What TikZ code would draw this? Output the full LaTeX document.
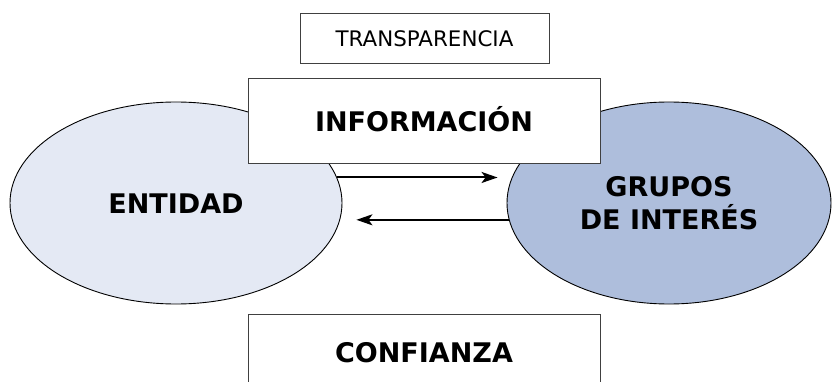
\documentclass[tikz,border=0pt]{standalone}
\usepackage{fontspec}
\setmainfont{DejaVu Sans}
\usetikzlibrary{shapes.geometric,arrows.meta}

\definecolor{entfill}{HTML}{E4E9F4}
\definecolor{grpfill}{HTML}{AEBEDC}

\tikzset{
	bigtext/.style={font=\fontsize{27}{33}\selectfont\bfseries, text height=20pt, text depth=0pt},
	framebox/.style={draw=black!75, line width=1pt, fill=white, inner sep=0pt, minimum width=352pt},
	actor/.style={ellipse, draw=black, line width=0.9pt, inner sep=0pt, minimum height=202pt},
	flow/.style={line width=2pt, -{Stealth[length=16pt,width=11pt,inset=4pt]}}
}

\begin{document}
\begin{tikzpicture}[x=1pt, y=-1pt]
	\clip (0,0) rectangle (832,382);
	\fill[white] (0,0) rectangle (832,382);

	\node[framebox, minimum width=249pt, minimum height=50pt, font=\fontsize{21.4}{25}\selectfont] (trans) at (424.5,39) {TRANSPARENCIA};

	\node[actor, fill=entfill, minimum width=332pt, bigtext] (ent) at (176,203) {ENTIDAD};
	\node[actor, fill=grpfill, minimum width=324pt, bigtext, text height=53pt, align=center] (grp) at (669,203) {GRUPOS\\DE INTERÉS};

	\node[framebox, minimum height=85pt, bigtext] (info) at (424,121.5) {INFORMACIÓN};
	\node[framebox, minimum height=77pt, bigtext] (conf) at (424,352.5) {CONFIANZA};

	\draw[flow, shorten >=9pt] (ent.9) -- (ent.9 -| grp.west);
	\draw[flow, shorten >=14pt] (grp.186.5) -- (grp.186.5 -| ent.east);
\end{tikzpicture}
\end{document}
